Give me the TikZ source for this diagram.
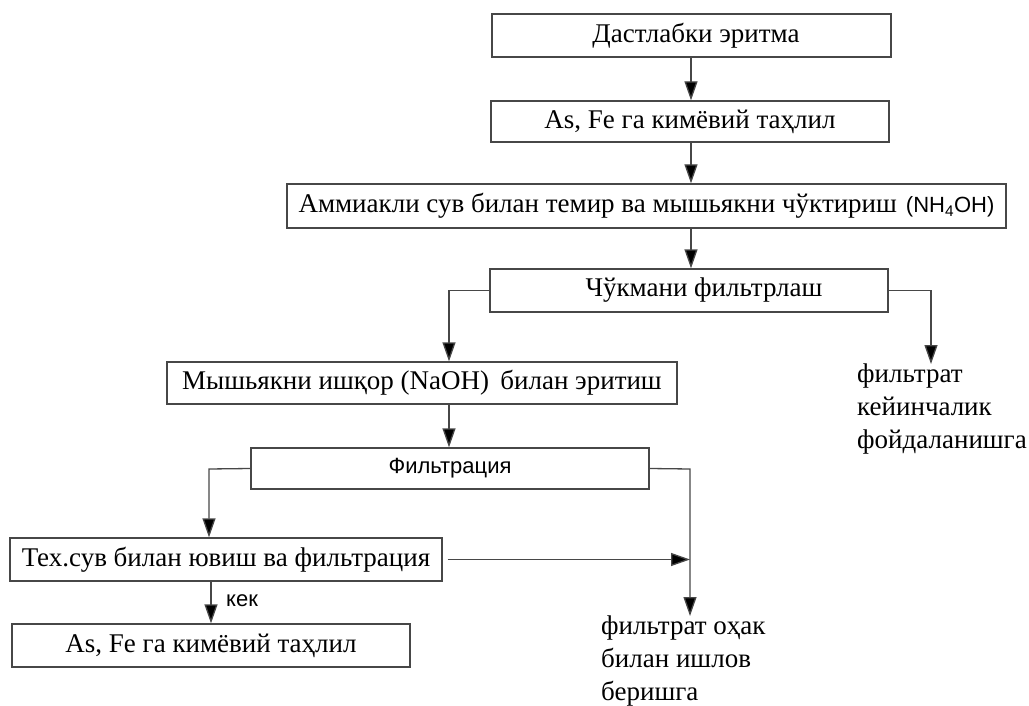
\documentclass[tikz,border=0pt]{standalone}
\usepackage{fontspec}
\setmainfont{Liberation Serif}
\newfontfamily\sansf{Liberation Sans}
\usetikzlibrary{arrows.meta}
\begin{document}
\begin{tikzpicture}[x=1pt,y=-1pt,
  box/.style={draw=black!72, line width=1.3pt, inner sep=0pt, minimum height=#1},
  box/.default=43pt,
  serif/.style={font=\fontsize{27}{33}\selectfont},
  sanslbl/.style={font=\sansf\fontsize{22}{26}\selectfont},
  conn/.style={draw=black!72, line width=1.3pt, -{Triangle[length=19pt,width=13pt,fill=black]}},
  txt/.style={serif, align=left, inner sep=0pt}]
\useasboundingbox (0,0) rectangle (1029,706);
\node[box, serif, minimum width=399pt] (b1) at (691.5,35.5) {\hspace*{9pt}Дастлабки эритма};
\node[box=41pt, serif, minimum width=398pt] (b2) at (690,121.5) {As, Fe га кимёвий таҳлил};
\node[box=44pt, serif, minimum width=719pt] (b3) at (646.5,206) {Аммиакли сув билан темир ва мышьякни чўктириш\,\,{\sansf\fontsize{22}{26}\selectfont (NH\textsubscript{4}OH)}};
\node[box, serif, minimum width=398pt] (b4) at (689,290.5) {\hspace*{30pt}Чўкмани фильтрлаш};
\node[box=42pt, serif, minimum width=510pt] (b5) at (422,383) {Мышьякни ишқор (NaOH)\, билан эритиш};
\node[box=41pt, sanslbl, minimum width=398pt] (b6) at (450,468.5) {Фильтрация};
\node[box, serif, minimum width=432pt] (b7) at (226,559.5) {Тех.сув билан ювиш ва фильтрация};
\node[box, serif, minimum width=398pt] (b8) at (211,645.5) {As, Fe га кимёвий таҳлил};
\node[txt, anchor=north west] (f1) at (857,364) {фильтрат\\кейинчалик\\фойдаланишга};
\node[txt, anchor=north west] (f2) at (601,616) {фильтрат оҳак\\билан ишлов\\беришга};
\coordinate (j1) at (931,290.5);
\coordinate (j2) at (690,469);
\coordinate (j3) at (449,290.5);
\coordinate (j4) at (209,469);
\draw[conn] (b1.south -| 691,0) -- (b2.north -| 691,0);
\draw[conn] (b2.south -| 691,0) -- (b3.north -| 691,0);
\draw[conn] (b3.south -| 691,0) -- (b4.north -| 691,0);
\draw[conn] (b4.west) -- (j3) -- (j3 |- b5.north);
\draw[conn] (b4.east) -- (j1) -- (j1 |- f1.north);
\draw[conn] (b5.south -| j3) -- (b6.north -| j3);
\draw[conn] (b6.west) -- (j4) -- (j4 |- b7.north);
\draw[conn] (b6.east) -- (j2) -- (j2 |- f2.north);
\draw[conn] ([xshift=5pt]b7.east) -- (j2 |- b7.east);
\draw[conn] (b8.north |- b7.south) -- (b8.north);
\node[sanslbl, anchor=west, inner sep=0pt] (kek) at (226,601) {кек};
\end{tikzpicture}
\end{document}
